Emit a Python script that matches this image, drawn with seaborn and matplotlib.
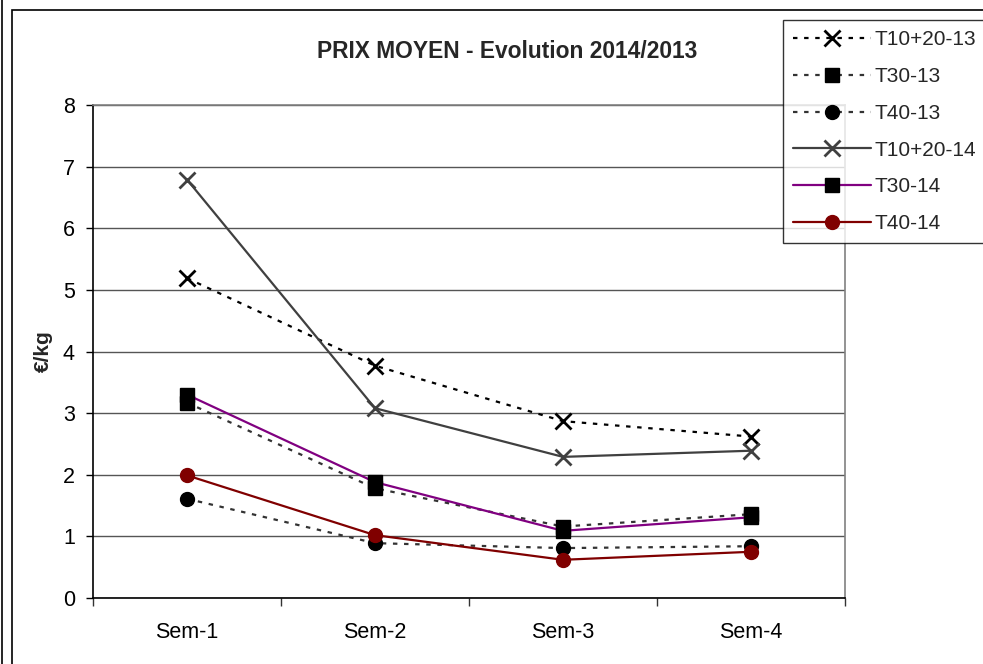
import matplotlib
matplotlib.use("Agg")
import matplotlib.pyplot as plt
import seaborn as sns
import pandas as pd
from matplotlib.lines import Line2D
from matplotlib.patches import Rectangle

sns.set_theme(style="white")
plt.rcParams['font.family'] = ['Liberation Sans', 'DejaVu Sans']

categories = ["Sem-1", "Sem-2", "Sem-3", "Sem-4"]
series_names = ["T10+20-13", "T30-13", "T40-13", "T10+20-14", "T30-14", "T40-14"]
t1020_13 = [5.19, 3.77, 2.87, 2.62]
t30_13 = [3.17, 1.78, 1.16, 1.36]
t40_13 = [1.61, 0.89, 0.81, 0.84]
t1020_14 = [6.79, 3.08, 2.29, 2.39]
t30_14 = [3.30, 1.88, 1.09, 1.31]
t40_14 = [1.99, 1.02, 0.62, 0.75]
values = [t1020_13, t30_13, t40_13, t1020_14, t30_14, t40_14]

dot = (0, (2, 3))
styles = {
    "T10+20-13": dict(color="black", ls=dot, marker="x", mfc="black", mec="black", ms=11, mew=2),
    "T30-13": dict(color="#333333", ls=dot, marker="s", mfc="black", mec="black", ms=10, mew=1),
    "T40-13": dict(color="#333333", ls=dot, marker="o", mfc="black", mec="black", ms=10, mew=1),
    "T10+20-14": dict(color="#404040", ls="-", marker="x", mfc="#404040", mec="#404040", ms=11, mew=2),
    "T30-14": dict(color="#800080", ls="-", marker="s", mfc="black", mec="black", ms=10, mew=1),
    "T40-14": dict(color="#800000", ls="-", marker="o", mfc="#800000", mec="#800000", ms=10, mew=1),
}

fig = plt.figure(figsize=(9.83, 6.64), dpi=100)
ax = fig.add_axes([93/983, 1-598/664, (845-93)/983, (598-105)/664])

handles = []
for name, vals in zip(series_names, values):
    st = styles[name]
    df = pd.DataFrame({"cat": categories, "val": vals})
    sns.lineplot(data=df, x="cat", y="val", ax=ax, color=st["color"], linestyle=st["ls"],
                 linewidth=1.6, marker=st["marker"], markersize=st["ms"],
                 markerfacecolor=st["mfc"], markeredgecolor=st["mec"], markeredgewidth=st["mew"],
                 sort=False, legend=False)
    handles.append(Line2D([], [], color=st["color"], linestyle=st["ls"], linewidth=1.6,
                          marker=st["marker"], markersize=st["ms"], markerfacecolor=st["mfc"],
                          markeredgecolor=st["mec"], markeredgewidth=st["mew"]))

ax.set_xlim(-0.5, 3.5)
ax.set_ylim(0, 8)
ax.set_yticks(range(0, 9))
ax.set_xticks(range(4))
ax.set_xticklabels(categories)
ax.set_xticks([-0.5, 0.5, 1.5, 2.5, 3.5], minor=True)
ax.tick_params(axis="x", which="major", length=0, pad=17, labelsize=15.5, colors="black")
ax.tick_params(axis="x", which="minor", length=6, width=1, direction="out", color="#333333", bottom=True)
ax.tick_params(axis="y", which="major", length=5, width=1, direction="out", left=True, labelsize=15.5,
               pad=8, colors="black")
ax.set_xlabel("")
ax.set_ylabel("€/kg", fontsize=15, fontweight="bold", labelpad=7)
ax.yaxis.grid(True, color="#555555", linewidth=1)
ax.set_axisbelow(True)
for s in ["left", "bottom"]:
    ax.spines[s].set_color("black")
    ax.spines[s].set_linewidth(1.2)
for s in ["top", "right"]:
    ax.spines[s].set_color("#808080")
    ax.spines[s].set_linewidth(1.2)

fig.text(507/983, 1-52/664, "PRIX MOYEN - Evolution 2014/2013", ha="center", va="center",
         fontsize=16.4, fontweight="bold")

leg = fig.legend(handles, series_names, loc="upper left", bbox_to_anchor=(783/983, 1-20/664),
                 fontsize=15, handlelength=3.7, handletextpad=0.2, labelspacing=0.85,
                 borderpad=0.5, borderaxespad=0, frameon=True, fancybox=False)
leg.get_frame().set_edgecolor("black")
leg.get_frame().set_linewidth(1)

# outer chart border
fig.add_artist(Rectangle((12/983, -0.1), 1.2, 1-10/664+0.1, transform=fig.transFigure,
                         fill=False, edgecolor="black", linewidth=1.2, zorder=0))
fig.add_artist(Line2D([2/983, 2/983], [0, 1], transform=fig.transFigure, color="black", linewidth=1.2))

fig.savefig("out.png", dpi=100)
